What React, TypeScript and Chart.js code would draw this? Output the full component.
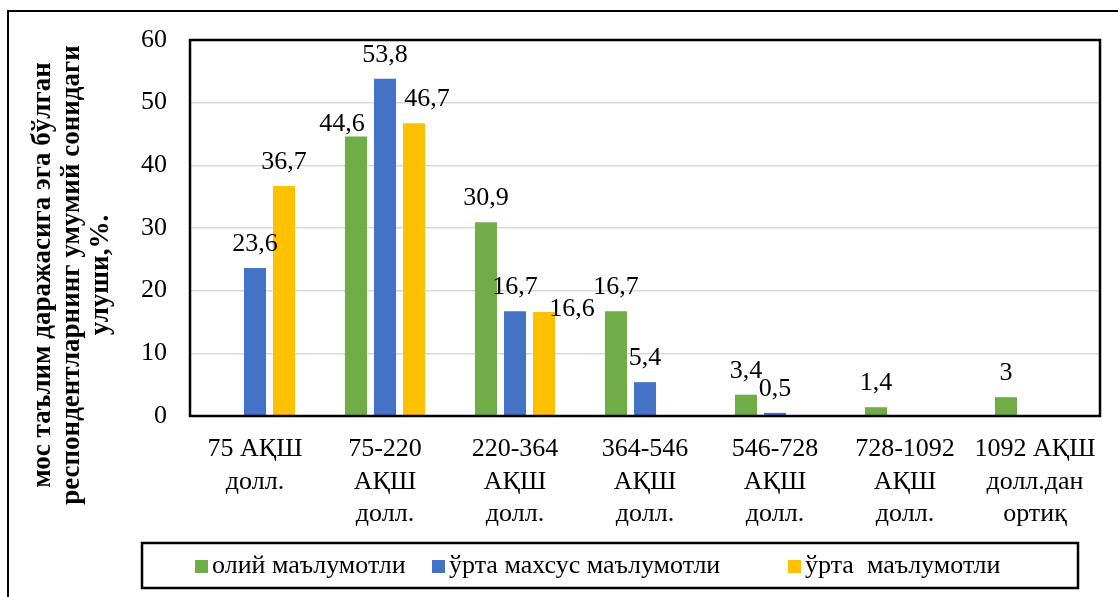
import React, { useEffect, useRef } from 'react';
import { Chart, registerables } from 'chart.js';

Chart.register(...registerables);

const categories: string[][] = [
  ['75 АҚШ', 'долл.'],
  ['75-220', 'АҚШ', 'долл.'],
  ['220-364', 'АҚШ', 'долл.'],
  ['364-546', 'АҚШ', 'долл.'],
  ['546-728', 'АҚШ', 'долл.'],
  ['728-1092', 'АҚШ', 'долл.'],
  ['1092 АҚШ', 'долл.дан', 'ортиқ'],
];

const seriesNames = ['олий маълумотли', 'ўрта махсус маълумотли', 'ўрта  маълумотли'];
const oliyValues = [null, 44.6, 30.9, 16.7, 3.4, 1.4, 3];
const urtaMaxsusValues = [23.6, 53.8, 16.7, 5.4, 0.5, null, null];
const urtaValues = [36.7, 46.7, 16.6, null, null, null, null];
const seriesColors = ['#70AD47', '#4472C4', '#FFC000'];

const yMin = 0;
const yMax = 60;
const yStep = 10;

const yAxisTitle = [
  'мос таълим даражасига эга бўлган',
  'респондентларнинг умумий сонидаги',
  'улуши,%.',
];

// layout tweaks (not data)
const titleShift = 47;
const legendItemOffsets = [53, 290, 646];
const labelNudges: Record<string, [number, number]> = {
  '0-1': [-14, 12],
  '2-1': [13, 0],
  '2-2': [28, 21],
};

const FONT = '"Liberation Serif", "Times New Roman", serif';

const fmt = (v: number) => String(v).replace('.', ',');

const valueLabelPlugin = {
  id: 'valueLabels',
  afterDatasetsDraw(chart: any) {
    const ctx = chart.ctx;
    ctx.save();
    ctx.font = `26px ${FONT}`;
    ctx.fillStyle = '#000';
    ctx.textAlign = 'center';
    ctx.textBaseline = 'middle';
    chart.data.datasets.forEach((ds: any, di: number) => {
      const meta = chart.getDatasetMeta(di);
      meta.data.forEach((bar: any, i: number) => {
        const v = ds.data[i];
        if (v == null) return;
        const n = labelNudges[`${di}-${i}`] || [0, 0];
        ctx.fillText(fmt(v), bar.x + n[0], bar.y - 24 + n[1]);
      });
    });
    ctx.restore();
  },
};

const plotBorderPlugin = {
  id: 'plotBorder',
  afterDatasetsDraw(chart: any) {
    const { ctx, chartArea } = chart;
    ctx.save();
    ctx.strokeStyle = '#000';
    ctx.lineWidth = 2.5;
    ctx.strokeRect(chartArea.left, chartArea.top, chartArea.right - chartArea.left, chartArea.bottom - chartArea.top);
    ctx.restore();
  },
};

const axisTitlePlugin = {
  id: 'axisTitle',
  afterDraw(chart: any) {
    const { ctx, chartArea } = chart;
    const yScale = chart.scales.y;
    const cy = (chartArea.top + chartArea.bottom) / 2 + titleShift;
    ctx.save();
    ctx.font = `bold 27px ${FONT}`;
    ctx.fillStyle = '#000';
    ctx.textAlign = 'center';
    ctx.textBaseline = 'middle';
    yAxisTitle.forEach((line, i) => {
      ctx.save();
      ctx.translate(yScale.left + 11 + i * 29, cy);
      ctx.rotate(-Math.PI / 2);
      ctx.fillText(line, 0, 0);
      ctx.restore();
    });
    ctx.restore();
  },
};

const boxLegendPlugin = {
  id: 'boxLegend',
  afterDraw(chart: any) {
    const { ctx, chartArea } = chart;
    const left = chartArea.left - 48;
    const right = left + 936;
    const top = chartArea.bottom + 127;
    const bottom = top + 45;
    ctx.save();
    ctx.strokeStyle = '#000';
    ctx.lineWidth = 2.5;
    ctx.strokeRect(left, top, right - left, bottom - top);
    ctx.font = `26px ${FONT}`;
    ctx.textBaseline = 'middle';
    ctx.textAlign = 'left';
    const cy = (top + bottom) / 2;
    const box = 13;
    chart.data.datasets.forEach((ds: any, i: number) => {
      const x = left + legendItemOffsets[i];
      ctx.fillStyle = ds.backgroundColor;
      ctx.fillRect(x, cy - box / 2 + 1, box, box);
      ctx.fillStyle = '#000';
      ctx.fillText(ds.label, x + box + 4, cy + 1);
    });
    ctx.restore();
  },
};

export default function App() {
  const ref = useRef<HTMLCanvasElement | null>(null);

  useEffect(() => {
    document.documentElement.style.overflow = 'hidden';
    document.body.style.overflow = 'hidden';
    const canvas = ref.current;
    if (!canvas) return;
    const values = [oliyValues, urtaMaxsusValues, urtaValues];
    const chart = new Chart(canvas, {
      type: 'bar',
      data: {
        labels: categories,
        datasets: seriesNames.map((name, i) => ({
          label: name,
          data: values[i],
          backgroundColor: seriesColors[i],
          borderWidth: 0,
          categoryPercentage: 0.67,
          barPercentage: 0.76,
        })),
      },
      options: {
        responsive: false,
        animation: false,
        devicePixelRatio: 1,
        layout: { padding: { left: 23, top: 28, right: 89, bottom: 76 } },
        plugins: {
          legend: { display: false },
          tooltip: { enabled: false },
        },
        scales: {
          x: {
            grid: { display: false },
            border: { display: false },
            ticks: {
              color: '#000',
              font: { family: FONT, size: 26, lineHeight: 1.25 },
              maxRotation: 0,
              minRotation: 0,
              autoSkip: false,
              padding: 9,
            },
            afterFit: (scale: any) => {
              scale.height = 110;
              scale.paddingLeft = 0;
              scale.paddingRight = 0;
            },
          },
          y: {
            min: yMin,
            max: yMax,
            grid: { color: '#d9d9d9', lineWidth: 1.5, drawTicks: false },
            border: { display: false },
            ticks: {
              stepSize: yStep,
              color: '#000',
              font: { family: FONT, size: 26 },
              padding: 23,
            },
            title: { display: false },
            afterFit: (scale: any) => {
              scale.width = 158;
              scale.paddingTop = 0;
              scale.paddingBottom = 0;
            },
          },
        },
      },
      plugins: [valueLabelPlugin, plotBorderPlugin, axisTitlePlugin, boxLegendPlugin],
    } as any);
    return () => chart.destroy();
  }, []);

  return (
    <div
      style={{
        position: 'absolute',
        left: 7,
        top: 10,
        border: '2px solid #000',
        width: 1180,
        height: 590,
        background: '#fff',
      }}
    >
      <canvas ref={ref} width={1180} height={590} style={{ display: 'block' }} />
    </div>
  );
}
